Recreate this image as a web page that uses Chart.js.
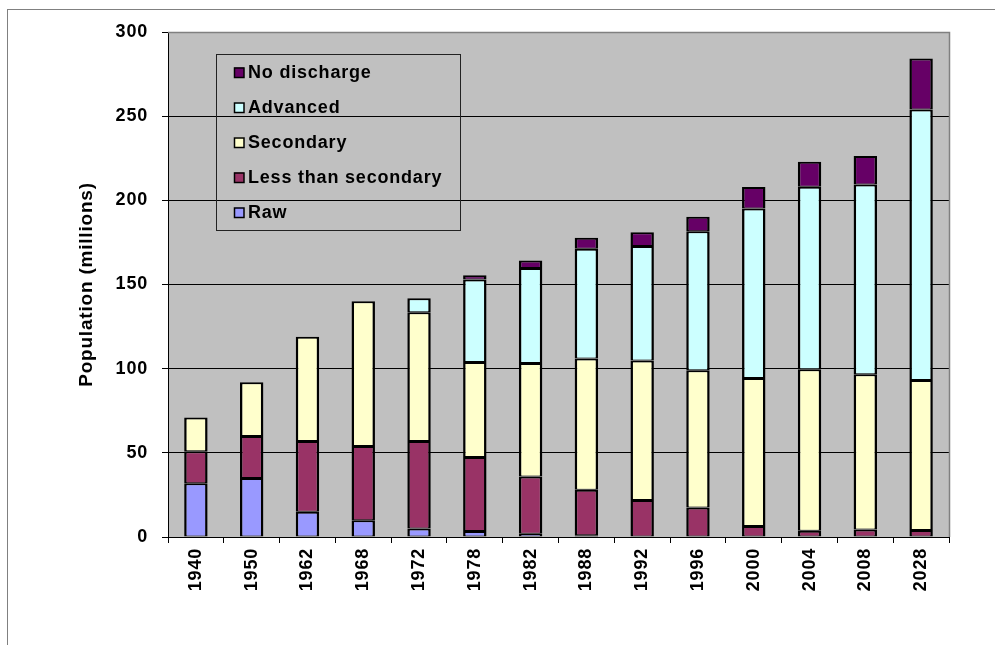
<!DOCTYPE html>
<html>
<head>
<meta charset="utf-8">
<script src="https://cdn.jsdelivr.net/npm/chart.js@4.4.1/dist/chart.umd.min.js"></script>
<style>
  html, body { margin: 0; padding: 0; background: #fff; }
  canvas { display: block; }
</style>
</head>
<body>
<canvas id="chart" width="995" height="645"></canvas>
<script>
// Population served by wastewater treatment level (millions)
const years = ['1940', '1950', '1962', '1968', '1972', '1978', '1982', '1988', '1992', '1996', '2000', '2004', '2008', '2028'];

const raw             = [32, 35, 15, 10, 5, 3.5, 2, 1, 0, 0, 0, 0, 0, 0];
const lessThanSecond  = [19, 25, 42, 44, 52, 44, 34, 27, 22, 17.5, 6.5, 3.7, 4.5, 4.2];
const secondary       = [20, 32, 62, 86, 76.5, 56.5, 67.4, 78, 82.8, 81.6, 88, 96, 92.2, 89];
const advanced        = [0, 0, 0, 0, 8.3, 48.9, 56.4, 65.3, 68, 82.6, 100.6, 108.3, 112.7, 160.8];
const noDischarge     = [0, 0, 0, 0, 0, 2.6, 4.4, 6.5, 8.3, 8.5, 12.8, 14.9, 17, 30.3];

const seriesNames  = ['Raw', 'Less than secondary', 'Secondary', 'Advanced', 'No discharge'];
const seriesColors = ['#9999FF', '#993366', '#FFFFCC', '#CCFFFF', '#660066'];
const seriesValues = [raw, lessThanSecond, secondary, advanced, noDischarge];

const FONT = '"Liberation Sans", Arial, Helvetica, sans-serif';
const FONT_SIZE = 18;
const SPACING = '0.8px';
Chart.defaults.font.family = FONT;
Chart.defaults.font.size = FONT_SIZE;
Chart.defaults.font.weight = 'bold';
Chart.defaults.color = '#000';

// Slightly wider bold lettering for every label drawn on the canvas
const spacing = {
  id: 'spacing',
  beforeInit(chart) { chart.ctx.letterSpacing = SPACING; },
  beforeUpdate(chart) { chart.ctx.letterSpacing = SPACING; },
  beforeLayout(chart) { chart.ctx.letterSpacing = SPACING; },
  beforeDraw(chart) { chart.ctx.letterSpacing = SPACING; }
};

// Page frame, grey plot background and the boxed legend
const decor = {
  id: 'decor',
  beforeDraw(chart) {
    const { ctx, chartArea: a } = chart;
    ctx.save();
    ctx.fillStyle = '#fff';
    ctx.fillRect(0, 0, chart.width, chart.height);
    ctx.strokeStyle = '#808080';
    ctx.lineWidth = 1;
    ctx.strokeRect(7.5, 9.5, chart.width + 20, chart.height + 20);
    ctx.fillStyle = '#C0C0C0';
    ctx.fillRect(a.left, a.top, a.right - a.left, a.bottom - a.top);
    ctx.restore();
  },
  afterDatasetsDraw(chart) {
    const { ctx, chartArea: a } = chart;
    ctx.save();
    // right and top edges of the plot area
    ctx.strokeStyle = '#808080';
    ctx.lineWidth = 1.5;
    ctx.beginPath();
    ctx.moveTo(a.left, a.top + 0.5);
    ctx.lineTo(a.right + 0.5, a.top + 0.5);
    ctx.lineTo(a.right + 0.5, a.bottom);
    ctx.stroke();

    // legend box, series listed top-down in reverse stacking order
    const bx = 216.5, by = 54.5, bw = 244, bh = 176;
    ctx.strokeStyle = '#222';
    ctx.lineWidth = 1;
    ctx.strokeRect(bx, by, bw, bh);
    ctx.font = 'bold ' + FONT_SIZE + 'px ' + FONT;
    ctx.textBaseline = 'middle';
    ctx.textAlign = 'left';
    const ds = chart.data.datasets.slice().reverse();
    ds.forEach((d, i) => {
      const cy = 72.5 + i * 35;
      ctx.fillStyle = d.backgroundColor;
      ctx.fillRect(234, cy - 5, 10, 10);
      ctx.strokeStyle = '#000';
      ctx.lineWidth = 1.5;
      ctx.strokeRect(234.5, cy - 4.5, 9.5, 9.5);
      ctx.fillStyle = '#000';
      ctx.fillText(d.label, 248, cy + 0.5);
    });
    ctx.restore();
  }
};

new Chart(document.getElementById('chart'), {
  type: 'bar',
  data: {
    labels: years,
    datasets: seriesNames.map((name, i) => ({
      label: name,
      data: seriesValues[i],
      backgroundColor: seriesColors[i],
      borderColor: '#000',
      borderWidth: { left: 2.5, right: 2.5, top: 2, bottom: 1 },
      borderSkipped: false,
      categoryPercentage: 1,
      barPercentage: 0.42
    }))
  },
  options: {
    responsive: false,
    devicePixelRatio: 1,
    animation: false,
    layout: { padding: { left: 0, top: 32, right: 46, bottom: 0 } },
    plugins: { legend: { display: false }, tooltip: { enabled: false } },
    scales: {
      x: {
        stacked: true,
        grid: { display: true, drawOnChartArea: false, drawTicks: true, tickLength: 6, color: '#000', offset: true },
        border: { display: true, color: '#000', width: 1 },
        ticks: { minRotation: 90, maxRotation: 90, autoSkip: false, padding: 5, font: { size: FONT_SIZE, weight: 'bold' } },
        afterFit: s => { s.height = 108; }
      },
      y: {
        stacked: true,
        min: 0,
        max: 300,
        ticks: { stepSize: 50, padding: 14, font: { size: FONT_SIZE, weight: 'bold' } },
        grid: {
          color: c => (c.tick && c.tick.value === 300 ? '#808080' : '#000'),
          tickColor: '#000',
          lineWidth: 1,
          tickLength: 6
        },
        border: { display: true, color: '#000', width: 1 },
        title: {
          display: true,
          text: 'Population (millions)',
          font: { size: 19, weight: 'bold' },
          padding: { top: 75, bottom: 0 }
        },
        afterFit: s => { s.width = 168; }
      }
    }
  },
  plugins: [spacing, decor]
});
</script>
</body>
</html>
